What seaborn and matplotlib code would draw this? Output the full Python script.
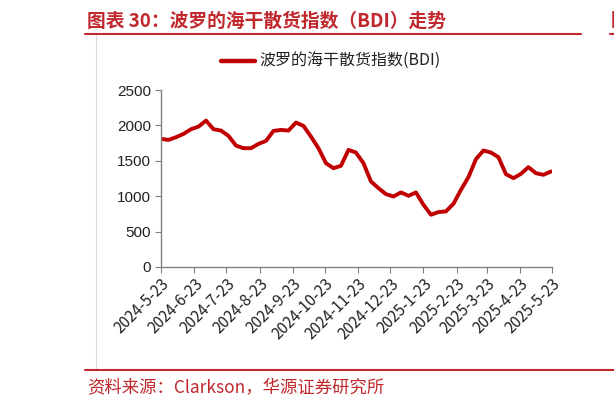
import pandas as pd
import seaborn as sns
import matplotlib.pyplot as plt
from matplotlib.lines import Line2D

# weekly BDI readings
bdi = [1810, 1795, 1833, 1880, 1946, 1983, 2068, 1946, 1927, 1852,
       1715, 1678, 1678, 1739, 1781, 1922, 1936, 1927, 2040, 1993,
       1842, 1678, 1466, 1396, 1429, 1654, 1617, 1466, 1208, 1114,
       1029, 996, 1053, 1006, 1053, 879, 738, 776, 785, 893,
       1090, 1269, 1523, 1645, 1617, 1551, 1311, 1255, 1316, 1410,
       1325, 1302, 1349]
dates = pd.date_range("2024-05-23", periods=len(bdi), freq="7D")
tick_labels = ["2024-5-23", "2024-6-23", "2024-7-23", "2024-8-23", "2024-9-23",
               "2024-10-23", "2024-11-23", "2024-12-23", "2025-1-23", "2025-2-23",
               "2025-3-23", "2025-4-23", "2025-5-23"]
tick_dates = pd.to_datetime(["2024-05-23", "2024-06-23", "2024-07-23", "2024-08-23",
                             "2024-09-23", "2024-10-23", "2024-11-23", "2024-12-23",
                             "2025-01-23", "2025-02-23", "2025-03-23", "2025-04-23",
                             "2025-05-23"])
series_name = "波罗的海干散货指数(BDI)"

red = "#C00000"
dark_red = "#C0282D"

sns.set_style("white")
plt.rcParams["font.family"] = ["Noto Sans CJK SC", "DejaVu Sans"]

df = pd.DataFrame({"date": dates, "BDI": bdi})

fig = plt.figure(figsize=(6.14, 4.09), dpi=100)
ax = fig.add_axes([161 / 614, 1 - 267 / 409, 391 / 614, 177 / 409])
sns.lineplot(data=df, x="date", y="BDI", ax=ax, color=red, linewidth=2.8, legend=False)

ax.set_xlim(tick_dates[0], tick_dates[-1])
ax.set_ylim(0, 2500)
ax.set_yticks(range(0, 2501, 500))
ax.set_xticks(tick_dates)
ax.set_xticklabels(tick_labels, rotation=45, ha="right", rotation_mode="anchor",
                   fontsize=11, color="#222222")
ax.tick_params(axis="y", length=4, color="#808080", direction="out", left=True, pad=3)
ax.tick_params(axis="x", length=4, color="#808080", direction="out", bottom=True, pad=2)
for lbl in ax.get_yticklabels():
    lbl.set_family("Liberation Sans")
    lbl.set_fontsize(11)
    lbl.set_color("#222222")
ax.set_xlabel("")
ax.set_ylabel("")
for s in ["top", "right"]:
    ax.spines[s].set_visible(False)
for s in ["left", "bottom"]:
    ax.spines[s].set_color("#808080")
    ax.spines[s].set_linewidth(1.0)

# legend at top
fig.add_artist(Line2D([221 / 614, 255 / 614], [1 - 61 / 409] * 2, color=red, linewidth=3.2))
fig.text(259 / 614, 1 - 61 / 409, series_name, fontsize=11.5, va="center", color="#222222")

# frame lines and captions
fig.text(87 / 614, 1 - 21 / 409, "图表 30：波罗的海干散货指数（BDI）走势", fontsize=13.5,
         fontweight="bold", color=dark_red, va="center")
fig.add_artist(Line2D([85 / 614, 581 / 614], [1 - 34 / 409] * 2, color=dark_red, linewidth=1.5))
fig.add_artist(Line2D([610 / 614, 1.0], [1 - 34 / 409] * 2, color=dark_red, linewidth=1.5))
fig.text(611 / 614, 1 - 21 / 409, "图", fontsize=13, fontweight="bold", color=dark_red, va="center")
fig.add_artist(Line2D([96 / 614, 96 / 614], [1 - 35 / 409, 1 - 369 / 409], color="#d9d9d9", linewidth=0.8))
fig.add_artist(Line2D([85 / 614, 1.0], [1 - 370 / 409] * 2, color=dark_red, linewidth=1.5))
fig.text(87 / 614, 1 - 388 / 409, "资料来源：Clarkson，华源证券研究所", fontsize=12.5,
         color=dark_red, va="center")

fig.savefig("out.png", dpi=100)
